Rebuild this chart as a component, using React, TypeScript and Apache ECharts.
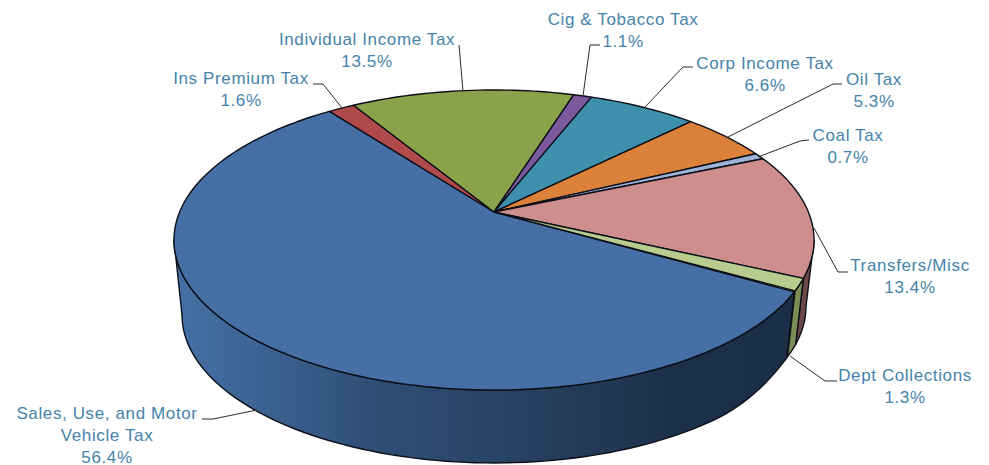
import React, { useEffect, useRef } from "react";
import * as echarts from "echarts";

// Revenue sources, in drawing order, clockwise from the pie's first slice.
const categories = [
  "Sales, Use, and Motor\nVehicle Tax",
  "Ins Premium Tax",
  "Individual Income Tax",
  "Cig & Tobacco Tax",
  "Corp Income Tax",
  "Oil Tax",
  "Coal Tax",
  "Transfers/Misc",
  "Dept Collections",
];
const shares = [56.4, 1.6, 13.5, 1.1, 6.6, 5.3, 0.7, 13.4, 1.3];

const topColors = ["#456fa5", "#b0494a", "#8aa34a", "#7a5a9c", "#3f90ad", "#dc8139", "#9db1d9", "#cd8e8d", "#b9cc8f"];
const sideColors = ["#2c4a70", "#78403f", "#667a36", "#5a4272", "#2d6b80", "#a35f2a", "#7483a0", "#6b484a", "#7c8c56"];

// Label placement: centre x, first-line y.
const labelPositions = [
  [107, 403], [241, 68], [367, 29], [623, 9], [765, 53], [874, 69], [848, 125], [910, 255], [905, 365],
];
// Leader lines from the label to the pie's rim.
const leaders = [
  [[202, 419], [213, 419], [257, 410]],
  [[313, 84], [323, 84], [342, 108]],
  [[459, 45], [463, 91]],
  [[600, 45], [590, 45], [583, 96]],
  [[693, 67], [683, 67], [645, 107]],
  [[842, 84], [833, 84], [728, 137]],
  [[809, 140], [800, 141], [758, 157]],
  [[848, 272], [838, 272], [814, 228]],
  [[837, 381], [825, 381], [790, 356]],
];

const START_ANGLE = 120;
const CX = 494;
const PERSPECTIVE = 0.1867;
const TOP_FACE = { a: 314.4, b: 144.8, y0: 212, lift: 0 };
const BOTTOM_FACE = { a: 306.5, b: 142.8, y0: 287.4, lift: 8.5 };
const SILHOUETTE = (Math.acos(-PERSPECTIVE) * 180) / Math.PI;

type Face = { a: number; b: number; y0: number; lift: number };

function project(face: Face, deg: number): number[] {
  const t = (deg * Math.PI) / 180;
  const w = 1 + PERSPECTIVE * Math.cos(t);
  // The lower rim rises slightly towards the pie's right-hand edge.
  const f = Math.min(1, Math.max(0, (142 - deg) / 24));
  return [CX + (face.a * Math.sin(t)) / w, face.y0 - (face.b * Math.cos(t)) / w - face.lift * f * f * (3 - 2 * f)];
}

function arc(face: Face, from: number, to: number): number[][] {
  const n = Math.max(2, Math.ceil((to - from) / 1.5));
  const pts: number[][] = [];
  for (let i = 0; i <= n; i++) pts.push(project(face, from + ((to - from) * i) / n));
  return pts;
}

function sliceStart(index: number): number {
  let from = START_ANGLE;
  for (let i = 0; i < index; i++) from += (shares[i] / 100) * 360;
  return from % 360;
}

const blueSide = () =>
  new echarts.graphic.LinearGradient(
    173, 0, 795, 0,
    [
      { offset: 0, color: "#4670a6" },
      { offset: 0.12, color: "#3d6596" },
      { offset: 0.33, color: "#2f4d74" },
      { offset: 0.525, color: "#294364" },
      { offset: 0.72, color: "#213752" },
      { offset: 0.81, color: "#1d3049" },
      { offset: 1, color: "#1a2e47" },
    ],
    true
  );

const edge = { stroke: "#0c0f18", lineWidth: 1.4, lineJoin: "round" };

function renderSide(params: any, api: any) {
  const i = params.dataIndex;
  const from = sliceStart(i);
  const lo = Math.max(from, SILHOUETTE);
  const hi = Math.min(from + (api.value(0) / 100) * 360, 360 - SILHOUETTE);
  if (hi <= lo) return { type: "group", children: [] };
  const points = [...arc(TOP_FACE, lo, hi), ...arc(BOTTOM_FACE, lo, hi).reverse()];
  return {
    type: "polygon",
    shape: { points },
    style: { fill: i === 0 ? blueSide() : sideColors[i], ...edge },
  };
}

function renderTop(params: any, api: any) {
  const i = params.dataIndex;
  const from = sliceStart(i);
  const points = [[CX, TOP_FACE.y0], ...arc(TOP_FACE, from, from + (api.value(0) / 100) * 360)];
  return {
    type: "polygon",
    shape: { points },
    style: { fill: topColors[i], ...edge },
  };
}

function renderLabel(params: any, api: any) {
  const i = params.dataIndex;
  const [x, y] = labelPositions[i];
  return {
    type: "group",
    children: [
      {
        type: "polyline",
        shape: { points: leaders[i] },
        style: { stroke: "#2b2b2b", lineWidth: 1, fill: "none" },
      },
      {
        type: "text",
        x,
        y,
        style: {
          text: `${categories[i]}\n${api.value(0).toFixed(1)}%`,
          fill: "#4583ab",
          font: '17px "Liberation Sans", Arial, sans-serif',
          lineHeight: 21.6,
          align: "center",
          verticalAlign: "top",
        },
      },
    ],
  };
}

export default function App() {
  const ref = useRef<HTMLDivElement>(null);
  useEffect(() => {
    const chart = echarts.init(ref.current, undefined, { renderer: "svg" });
    const data = shares.map((v) => [v]);
    chart.setOption({
      animation: false,
      backgroundColor: "#ffffff",
      series: [
        { type: "custom", coordinateSystem: "none", silent: true, z: 1, data, renderItem: renderSide },
        { type: "custom", coordinateSystem: "none", silent: true, z: 2, data, renderItem: renderTop },
        { type: "custom", coordinateSystem: "none", silent: true, z: 3, data, renderItem: renderLabel },
      ],
    });
    return () => chart.dispose();
  }, []);
  return (
    <div
      ref={ref}
      style={{ position: "absolute", left: 0, top: 0, width: 989, height: 465, letterSpacing: "0.62px" }}
    />
  );
}
